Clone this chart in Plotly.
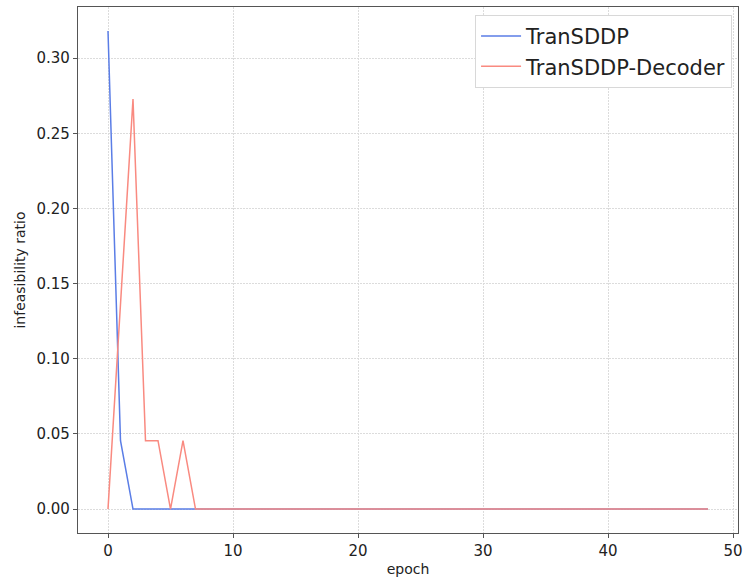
import plotly.graph_objects as go

epochs = list(range(49))
transddp = [0.318, 0.0455] + [0.0] * 47
transddp_decoder = [0.0, 0.136, 0.2727, 0.0455, 0.0455, 0.0, 0.0455, 0.0] + [0.0] * 41

x_ticks = [0, 10, 20, 30, 40, 50]
y_ticks = [0.00, 0.05, 0.10, 0.15, 0.20, 0.25, 0.30]

fig = go.Figure()
fig.add_trace(go.Scatter(x=epochs, y=transddp, mode="lines", name="TranSDDP",
                         line=dict(color="#5a7de6", width=1.5)))
fig.add_trace(go.Scatter(x=epochs, y=transddp_decoder, mode="lines", name="TranSDDP-Decoder",
                         line=dict(color="#f98a80", width=1.5)))

axis_common = dict(showline=True, mirror=True, linecolor="#555", linewidth=1.3,
                   ticks="outside", ticklen=4, tickcolor="#555",
                   showgrid=True, gridcolor="#dcdcdc", griddash="2px,1px", gridwidth=1.2,
                   zeroline=False, tickfont=dict(family="DejaVu Sans", size=15, color="#222"))

fig.update_layout(
    width=748, height=580,
    margin=dict(l=78, r=5, t=7, b=46),
    plot_bgcolor="white", paper_bgcolor="white",
    xaxis=dict(range=[-2.4, 50.4], tickvals=x_ticks,
               title=dict(text="epoch", font=dict(family="DejaVu Sans", size=14, color="#222"), standoff=5),
               **axis_common),
    yaxis=dict(range=[-0.0159, 0.334], tickvals=y_ticks, tickformat=".2f",
               title=dict(text="infeasibility ratio", font=dict(family="DejaVu Sans", size=14, color="#222"), standoff=7),
               **axis_common),
    legend=dict(x=0.991, y=0.985, xanchor="right", yanchor="top",
                bgcolor="white", bordercolor="#d8d8d8", borderwidth=1,
                tracegroupgap=4, itemwidth=40,
                font=dict(family="DejaVu Sans", size=21, color="#222")),
)

fig.write_html("out.html")
